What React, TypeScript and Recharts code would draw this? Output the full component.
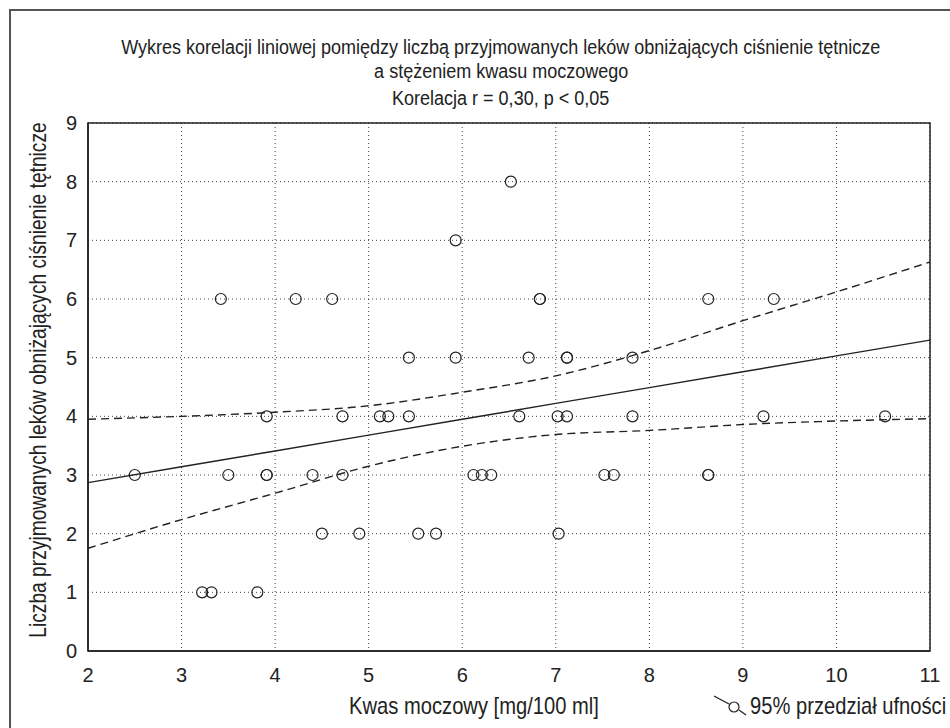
import {
  CartesianGrid,
  ComposedChart,
  Line,
  ReferenceArea,
  Scatter,
  XAxis,
  YAxis,
} from "recharts";

// measured points: uric acid (x) vs number of antihypertensive drugs (y)
const uricAcid = [
  2.5, 3.42, 3.22, 3.32, 3.81, 3.5, 3.91, 3.91, 3.91, 4.22, 4.61, 4.4, 4.72, 4.72,
  4.5, 4.9, 5.12, 5.21, 5.43, 5.43, 5.53, 5.72, 5.93, 5.93, 6.12, 6.21, 6.31, 6.52,
  6.61, 6.71, 6.83, 6.83, 7.02, 7.12, 7.03, 7.12, 7.12, 7.52, 7.62, 7.82, 7.82, 8.63,
  8.63, 8.63, 9.22, 9.33, 10.52,
];
const drugCount = [
  3, 6, 1, 1, 1, 3, 4, 3, 3, 6, 6, 3, 3, 4,
  2, 2, 4, 4, 4, 5, 2, 2, 7, 5, 3, 3, 3, 8,
  4, 5, 6, 6, 4, 4, 2, 5, 5, 3, 3, 5, 4, 6,
  3, 3, 4, 6, 4,
];

// regression line and 95% band, read at each integer x
const bandX = [2, 3, 4, 5, 6, 7, 8, 9, 10, 11];
const fitLine = [2.87, 3.14, 3.41, 3.68, 3.95, 4.22, 4.49, 4.76, 5.03, 5.3];
const upperBand = [3.95, 4.0, 4.07, 4.18, 4.41, 4.69, 5.12, 5.63, 6.12, 6.63];
const lowerBand = [1.75, 2.24, 2.69, 3.15, 3.49, 3.69, 3.76, 3.86, 3.92, 3.96];

const xTicks = [2, 3, 4, 5, 6, 7, 8, 9, 10, 11];
const yTicks = [0, 1, 2, 3, 4, 5, 6, 7, 8, 9];

const points = uricAcid.map((x, i) => ({ x, y: drugCount[i] }));
const bands = bandX.map((x, i) => ({
  x,
  fit: fitLine[i],
  upper: upperBand[i],
  lower: lowerBand[i],
}));

const FONT = '"Liberation Sans", Arial, sans-serif';
const INK = "#222";
const SQUEEZE = "scaleX(0.9)";

function OpenCircle(props: any) {
  const { cx, cy } = props;
  return <circle cx={cx} cy={cy} r={5.5} fill="none" stroke={INK} strokeWidth={1.2} />;
}

function Narrow({ children }: { children: React.ReactNode }) {
  return <span style={{ display: "inline-block", transform: SQUEEZE }}>{children}</span>;
}

export default function App() {
  const textStyle = {
    position: "absolute" as const,
    fontFamily: FONT,
    fontSize: 20,
    lineHeight: "20px",
    color: INK,
    whiteSpace: "nowrap" as const,
  };

  return (
    <div style={{ position: "absolute", left: 0, top: 0, width: 950, height: 728, background: "#fff", overflow: "hidden" }}>
      <div
        style={{
          position: "absolute",
          left: 9,
          top: 9,
          width: 960,
          height: 740,
          borderLeft: "2px solid #555",
          borderTop: "2px solid #555",
        }}
      />

      <div style={{ ...textStyle, left: 0, width: 1002, top: 37, textAlign: "center" }}>
        <Narrow>Wykres korelacji liniowej pomiędzy liczbą przyjmowanych leków obniżających ciśnienie tętnicze</Narrow>
      </div>
      <div style={{ ...textStyle, left: 0, width: 1002, top: 61, textAlign: "center" }}>
        <Narrow>a stężeniem kwasu moczowego</Narrow>
      </div>
      <div style={{ ...textStyle, left: 0, width: 1002, top: 88, textAlign: "center" }}>
        <Narrow>Korelacja r = 0,30, p &lt; 0,05</Narrow>
      </div>

      <ComposedChart
        width={950}
        height={728}
        margin={{ top: 123, right: 20, bottom: 0, left: 0 }}
        style={{ position: "absolute", left: 0, top: 0 }}
      >
        <CartesianGrid stroke="#444" strokeDasharray="1 3" />
        <XAxis
          type="number"
          dataKey="x"
          domain={[2, 11]}
          ticks={xTicks}
          height={77}
          tickLine={false}
          tickSize={0}
          tickMargin={17}
          axisLine={{ stroke: INK, strokeWidth: 1.5 }}
          tick={{ fontSize: 20, fill: INK, fontFamily: FONT }}
          allowDataOverflow
        />
        <YAxis
          type="number"
          dataKey="y"
          domain={[0, 9]}
          ticks={yTicks}
          width={88}
          tickLine={false}
          tickSize={0}
          tickMargin={11}
          axisLine={{ stroke: INK, strokeWidth: 1.5 }}
          tick={{ fontSize: 20, fill: INK, fontFamily: FONT }}
          allowDataOverflow
        />
        <ReferenceArea x1={2} x2={11} y1={0} y2={9} fill="none" stroke={INK} strokeWidth={1.5} />
        <Line
          data={bands}
          dataKey="upper"
          type="monotone"
          stroke={INK}
          strokeWidth={1.4}
          strokeDasharray="8 5"
          dot={false}
          isAnimationActive={false}
        />
        <Line
          data={bands}
          dataKey="lower"
          type="monotone"
          stroke={INK}
          strokeWidth={1.4}
          strokeDasharray="8 5"
          dot={false}
          isAnimationActive={false}
        />
        <Line
          data={bands}
          dataKey="fit"
          type="linear"
          stroke={INK}
          strokeWidth={1.4}
          dot={false}
          isAnimationActive={false}
        />
        <Scatter data={points} dataKey="y" shape={OpenCircle} isAnimationActive={false} />
      </ComposedChart>

      <div
        style={{
          ...textStyle,
          fontSize: 24,
          lineHeight: "24px",
          left: 38,
          top: 380,
          transform: "translate(-50%, -50%) rotate(-90deg) scaleX(0.8)",
        }}
      >
        Liczba przyjmowanych leków obniżających ciśnienie tętnicze
      </div>

      <div
        style={{
          ...textStyle,
          fontSize: 24,
          lineHeight: "24px",
          left: 474,
          top: 694,
          transform: "translateX(-50%) scaleX(0.84)",
        }}
      >
        Kwas moczowy [mg/100 ml]
      </div>

      <svg width={40} height={30} style={{ position: "absolute", left: 710, top: 692 }}>
        <line x1={4} y1={4} x2={19} y2={12} stroke={INK} strokeWidth={1.2} />
        <circle cx={24} cy={15} r={5} fill="none" stroke={INK} strokeWidth={1.2} />
        <line x1={29} y1={18} x2={36} y2={23} stroke={INK} strokeWidth={1.2} />
      </svg>
      <div
        style={{
          ...textStyle,
          fontSize: 24,
          lineHeight: "24px",
          left: 750,
          top: 694,
          transformOrigin: "left center",
          transform: "scaleX(0.84)",
        }}
      >
        95% przedział ufności
      </div>
    </div>
  );
}
